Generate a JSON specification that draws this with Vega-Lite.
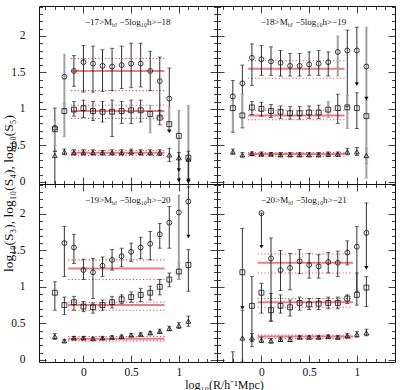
{
  "$schema": "https://vega.github.io/schema/vega-lite/v6.json",
  "padding": {"left": 0, "top": 0, "right": 0, "bottom": 0},
  "datasets": {
    "pts": [
      {"p":1,"s":"S5","x":-0.3,"y":0.74,"lo":0.42,"hi":1.01,"t":"k"},
      {"p":1,"s":"S5","x":-0.2,"y":1.44,"lo":0.99,"hi":1.75,"t":"g"},
      {"p":1,"s":"S5","x":-0.1,"y":1.52,"lo":1.31,"hi":1.73,"t":"k"},
      {"p":1,"s":"S5","x":0,"y":1.64,"lo":1.23,"hi":1.87,"t":"k"},
      {"p":1,"s":"S5","x":0.1,"y":1.62,"lo":1.23,"hi":1.86,"t":"k"},
      {"p":1,"s":"S5","x":0.2,"y":1.59,"lo":1.24,"hi":1.81,"t":"k"},
      {"p":1,"s":"S5","x":0.3,"y":1.58,"lo":1.25,"hi":1.83,"t":"k"},
      {"p":1,"s":"S5","x":0.4,"y":1.6,"lo":1.28,"hi":1.86,"t":"k"},
      {"p":1,"s":"S5","x":0.5,"y":1.62,"lo":1.29,"hi":1.9,"t":"k"},
      {"p":1,"s":"S5","x":0.6,"y":1.62,"lo":1.3,"hi":1.9,"t":"k"},
      {"p":1,"s":"S5","x":0.7,"y":1.52,"lo":1.25,"hi":1.79,"t":"k"},
      {"p":1,"s":"S5","x":0.8,"y":1.38,"lo":0.89,"hi":1.71,"t":"k"},
      {"p":1,"s":"S5","x":0.9,"y":1.14,"lo":0.71,"hi":1.56,"t":"k"},
      {"p":1,"s":"S4","x":-0.3,"y":0.72,"lo":0.5,"hi":0.85,"t":"g"},
      {"p":1,"s":"S4","x":-0.2,"y":0.97,"lo":0.62,"hi":1.08,"t":"g"},
      {"p":1,"s":"S4","x":-0.1,"y":0.99,"lo":0.9,"hi":1.1,"t":"k"},
      {"p":1,"s":"S4","x":0,"y":1.01,"lo":0.88,"hi":1.12,"t":"k"},
      {"p":1,"s":"S4","x":0.1,"y":0.97,"lo":0.84,"hi":1.1,"t":"k"},
      {"p":1,"s":"S4","x":0.2,"y":0.96,"lo":0.82,"hi":1.1,"t":"k"},
      {"p":1,"s":"S4","x":0.3,"y":0.96,"lo":0.62,"hi":1.12,"t":"k"},
      {"p":1,"s":"S4","x":0.4,"y":0.97,"lo":0.8,"hi":1.1,"t":"k"},
      {"p":1,"s":"S4","x":0.5,"y":0.98,"lo":0.8,"hi":1.12,"t":"k"},
      {"p":1,"s":"S4","x":0.6,"y":0.98,"lo":0.82,"hi":1.12,"t":"k"},
      {"p":1,"s":"S4","x":0.7,"y":0.93,"lo":0.67,"hi":1.05,"t":"g"},
      {"p":1,"s":"S4","x":0.8,"y":0.88,"lo":0.78,"hi":0.98,"t":"k"},
      {"p":1,"s":"S4","x":0.9,"y":0.79,"lo":0.69,"hi":1.03,"t":"g","a":1},
      {"p":1,"s":"S4","x":1,"y":0.63,"lo":0.16,"hi":0.98,"t":"g","a":1},
      {"p":1,"s":"S4","x":1.1,"y":0.33,"lo":0.02,"hi":1.05,"t":"g","a":1},
      {"p":1,"s":"S3","x":-0.3,"y":0.36,"lo":-0.05,"hi":0.42,"t":"k"},
      {"p":1,"s":"S3","x":-0.2,"y":0.41,"lo":0.37,"hi":0.45,"t":"k"},
      {"p":1,"s":"S3","x":-0.1,"y":0.4,"lo":0.37,"hi":0.44,"t":"k"},
      {"p":1,"s":"S3","x":0,"y":0.4,"lo":0.37,"hi":0.44,"t":"k"},
      {"p":1,"s":"S3","x":0.1,"y":0.4,"lo":0.37,"hi":0.44,"t":"k"},
      {"p":1,"s":"S3","x":0.2,"y":0.4,"lo":0.37,"hi":0.43,"t":"k"},
      {"p":1,"s":"S3","x":0.3,"y":0.4,"lo":0.37,"hi":0.44,"t":"k"},
      {"p":1,"s":"S3","x":0.4,"y":0.4,"lo":0.37,"hi":0.44,"t":"k"},
      {"p":1,"s":"S3","x":0.5,"y":0.41,"lo":0.37,"hi":0.45,"t":"k"},
      {"p":1,"s":"S3","x":0.6,"y":0.4,"lo":0.37,"hi":0.44,"t":"k"},
      {"p":1,"s":"S3","x":0.7,"y":0.4,"lo":0.37,"hi":0.44,"t":"k"},
      {"p":1,"s":"S3","x":0.8,"y":0.4,"lo":0.36,"hi":0.44,"t":"k"},
      {"p":1,"s":"S3","x":0.9,"y":0.37,"lo":0.28,"hi":0.46,"t":"k"},
      {"p":1,"s":"S3","x":1,"y":0.33,"lo":0.02,"hi":0.4,"t":"k","a":1},
      {"p":1,"s":"S3","x":1.1,"y":0.31,"lo":0.0,"hi":0.42,"t":"k","a":1},

      {"p":2,"s":"S5","x":-0.3,"y":1.17,"lo":0.68,"hi":1.39,"t":"k"},
      {"p":2,"s":"S5","x":-0.2,"y":1.35,"lo":0.74,"hi":1.6,"t":"k"},
      {"p":2,"s":"S5","x":-0.1,"y":1.7,"lo":1.32,"hi":1.89,"t":"k"},
      {"p":2,"s":"S5","x":0,"y":1.68,"lo":1.46,"hi":1.87,"t":"k"},
      {"p":2,"s":"S5","x":0.1,"y":1.65,"lo":1.46,"hi":1.85,"t":"k"},
      {"p":2,"s":"S5","x":0.2,"y":1.63,"lo":1.45,"hi":1.8,"t":"k"},
      {"p":2,"s":"S5","x":0.3,"y":1.59,"lo":1.45,"hi":1.76,"t":"k"},
      {"p":2,"s":"S5","x":0.4,"y":1.59,"lo":1.45,"hi":1.76,"t":"k"},
      {"p":2,"s":"S5","x":0.5,"y":1.61,"lo":1.46,"hi":1.78,"t":"k"},
      {"p":2,"s":"S5","x":0.6,"y":1.62,"lo":1.46,"hi":1.8,"t":"k"},
      {"p":2,"s":"S5","x":0.7,"y":1.64,"lo":1.45,"hi":1.78,"t":"k"},
      {"p":2,"s":"S5","x":0.8,"y":1.78,"lo":1.45,"hi":2.0,"t":"g"},
      {"p":2,"s":"S5","x":0.9,"y":1.8,"lo":1.03,"hi":2.08,"t":"k"},
      {"p":2,"s":"S5","x":1,"y":1.8,"lo":1.34,"hi":2.12,"t":"k","a":1},
      {"p":2,"s":"S5","x":1.1,"y":1.58,"lo":1.14,"hi":2.12,"t":"g","a":1},
      {"p":2,"s":"S4","x":-0.3,"y":1.01,"lo":0.68,"hi":1.12,"t":"g"},
      {"p":2,"s":"S4","x":-0.2,"y":0.91,"lo":0.74,"hi":1.2,"t":"g"},
      {"p":2,"s":"S4","x":-0.1,"y":1.02,"lo":0.92,"hi":1.1,"t":"k"},
      {"p":2,"s":"S4","x":0,"y":1.0,"lo":0.9,"hi":1.09,"t":"k"},
      {"p":2,"s":"S4","x":0.1,"y":0.97,"lo":0.88,"hi":1.06,"t":"k"},
      {"p":2,"s":"S4","x":0.2,"y":0.96,"lo":0.87,"hi":1.04,"t":"k"},
      {"p":2,"s":"S4","x":0.3,"y":0.94,"lo":0.86,"hi":1.03,"t":"k"},
      {"p":2,"s":"S4","x":0.4,"y":0.94,"lo":0.86,"hi":1.03,"t":"k"},
      {"p":2,"s":"S4","x":0.5,"y":0.95,"lo":0.87,"hi":1.04,"t":"k"},
      {"p":2,"s":"S4","x":0.6,"y":0.95,"lo":0.87,"hi":1.05,"t":"k"},
      {"p":2,"s":"S4","x":0.7,"y":0.99,"lo":0.88,"hi":1.1,"t":"g"},
      {"p":2,"s":"S4","x":0.8,"y":1.01,"lo":0.8,"hi":1.2,"t":"k"},
      {"p":2,"s":"S4","x":0.9,"y":1.02,"lo":0.73,"hi":1.18,"t":"g"},
      {"p":2,"s":"S4","x":1,"y":1.01,"lo":0.73,"hi":1.22,"t":"k"},
      {"p":2,"s":"S4","x":1.1,"y":0.9,"lo":0.05,"hi":1.12,"t":"g"},
      {"p":2,"s":"S3","x":-0.3,"y":0.41,"lo":0.38,"hi":0.45,"t":"k"},
      {"p":2,"s":"S3","x":-0.2,"y":0.37,"lo":0.34,"hi":0.4,"t":"k"},
      {"p":2,"s":"S3","x":-0.1,"y":0.39,"lo":0.36,"hi":0.41,"t":"k"},
      {"p":2,"s":"S3","x":0,"y":0.38,"lo":0.36,"hi":0.41,"t":"k"},
      {"p":2,"s":"S3","x":0.1,"y":0.38,"lo":0.36,"hi":0.4,"t":"k"},
      {"p":2,"s":"S3","x":0.2,"y":0.37,"lo":0.35,"hi":0.4,"t":"k"},
      {"p":2,"s":"S3","x":0.3,"y":0.37,"lo":0.35,"hi":0.4,"t":"k"},
      {"p":2,"s":"S3","x":0.4,"y":0.37,"lo":0.35,"hi":0.4,"t":"k"},
      {"p":2,"s":"S3","x":0.5,"y":0.37,"lo":0.35,"hi":0.4,"t":"k"},
      {"p":2,"s":"S3","x":0.6,"y":0.37,"lo":0.35,"hi":0.4,"t":"k"},
      {"p":2,"s":"S3","x":0.7,"y":0.38,"lo":0.35,"hi":0.41,"t":"k"},
      {"p":2,"s":"S3","x":0.8,"y":0.38,"lo":0.35,"hi":0.41,"t":"k"},
      {"p":2,"s":"S3","x":0.9,"y":0.41,"lo":0.37,"hi":0.46,"t":"k"},
      {"p":2,"s":"S3","x":1,"y":0.41,"lo":0.36,"hi":0.47,"t":"k"},
      {"p":2,"s":"S3","x":1.1,"y":0.36,"lo":0.25,"hi":0.46,"t":"g"},

      {"p":3,"s":"S5","x":-0.2,"y":1.6,"lo":1.14,"hi":1.83,"t":"k"},
      {"p":3,"s":"S5","x":-0.1,"y":1.54,"lo":1.32,"hi":1.72,"t":"k"},
      {"p":3,"s":"S5","x":0,"y":1.23,"lo":1.1,"hi":1.38,"t":"k"},
      {"p":3,"s":"S5","x":0.1,"y":1.2,"lo":0.84,"hi":1.39,"t":"k"},
      {"p":3,"s":"S5","x":0.2,"y":1.29,"lo":1.14,"hi":1.41,"t":"k"},
      {"p":3,"s":"S5","x":0.3,"y":1.37,"lo":1.23,"hi":1.51,"t":"k"},
      {"p":3,"s":"S5","x":0.4,"y":1.42,"lo":1.28,"hi":1.53,"t":"k"},
      {"p":3,"s":"S5","x":0.5,"y":1.48,"lo":1.35,"hi":1.6,"t":"k"},
      {"p":3,"s":"S5","x":0.6,"y":1.54,"lo":1.39,"hi":1.68,"t":"k"},
      {"p":3,"s":"S5","x":0.7,"y":1.59,"lo":1.37,"hi":1.76,"t":"k"},
      {"p":3,"s":"S5","x":0.8,"y":1.72,"lo":1.53,"hi":1.87,"t":"k"},
      {"p":3,"s":"S5","x":0.9,"y":1.88,"lo":1.53,"hi":2.1,"t":"k"},
      {"p":3,"s":"S5","x":1,"y":2.02,"lo":1.1,"hi":2.26,"t":"g"},
      {"p":3,"s":"S5","x":1.1,"y":2.17,"lo":1.69,"hi":2.37,"t":"k","a":1},
      {"p":3,"s":"S4","x":-0.3,"y":0.92,"lo":0.68,"hi":1.07,"t":"k"},
      {"p":3,"s":"S4","x":-0.2,"y":0.75,"lo":0.62,"hi":0.86,"t":"k"},
      {"p":3,"s":"S4","x":-0.1,"y":0.79,"lo":0.68,"hi":0.87,"t":"k"},
      {"p":3,"s":"S4","x":0,"y":0.73,"lo":0.66,"hi":0.8,"t":"k"},
      {"p":3,"s":"S4","x":0.1,"y":0.72,"lo":0.64,"hi":0.78,"t":"k"},
      {"p":3,"s":"S4","x":0.2,"y":0.75,"lo":0.68,"hi":0.82,"t":"k"},
      {"p":3,"s":"S4","x":0.3,"y":0.79,"lo":0.71,"hi":0.87,"t":"k"},
      {"p":3,"s":"S4","x":0.4,"y":0.83,"lo":0.77,"hi":0.89,"t":"k"},
      {"p":3,"s":"S4","x":0.5,"y":0.86,"lo":0.79,"hi":0.93,"t":"k"},
      {"p":3,"s":"S4","x":0.6,"y":0.89,"lo":0.8,"hi":0.98,"t":"k"},
      {"p":3,"s":"S4","x":0.7,"y":0.92,"lo":0.82,"hi":1.01,"t":"k"},
      {"p":3,"s":"S4","x":0.8,"y":1.0,"lo":0.89,"hi":1.1,"t":"k"},
      {"p":3,"s":"S4","x":0.9,"y":1.1,"lo":1.0,"hi":1.19,"t":"k"},
      {"p":3,"s":"S4","x":1,"y":1.21,"lo":1.1,"hi":1.33,"t":"g"},
      {"p":3,"s":"S4","x":1.1,"y":1.3,"lo":0.94,"hi":1.51,"t":"k"},
      {"p":3,"s":"S3","x":-0.3,"y":0.32,"lo":0.28,"hi":0.36,"t":"k"},
      {"p":3,"s":"S3","x":-0.2,"y":0.26,"lo":0.24,"hi":0.28,"t":"k"},
      {"p":3,"s":"S3","x":-0.1,"y":0.3,"lo":0.28,"hi":0.32,"t":"k"},
      {"p":3,"s":"S3","x":0,"y":0.3,"lo":0.28,"hi":0.32,"t":"k"},
      {"p":3,"s":"S3","x":0.1,"y":0.29,"lo":0.27,"hi":0.31,"t":"k"},
      {"p":3,"s":"S3","x":0.2,"y":0.3,"lo":0.28,"hi":0.32,"t":"k"},
      {"p":3,"s":"S3","x":0.3,"y":0.31,"lo":0.29,"hi":0.33,"t":"k"},
      {"p":3,"s":"S3","x":0.4,"y":0.32,"lo":0.3,"hi":0.34,"t":"k"},
      {"p":3,"s":"S3","x":0.5,"y":0.34,"lo":0.32,"hi":0.36,"t":"k"},
      {"p":3,"s":"S3","x":0.6,"y":0.35,"lo":0.33,"hi":0.37,"t":"k"},
      {"p":3,"s":"S3","x":0.7,"y":0.37,"lo":0.35,"hi":0.39,"t":"k"},
      {"p":3,"s":"S3","x":0.8,"y":0.39,"lo":0.37,"hi":0.42,"t":"k"},
      {"p":3,"s":"S3","x":0.9,"y":0.43,"lo":0.4,"hi":0.46,"t":"k"},
      {"p":3,"s":"S3","x":1,"y":0.47,"lo":0.43,"hi":0.51,"t":"k"},
      {"p":3,"s":"S3","x":1.1,"y":0.53,"lo":0.46,"hi":0.6,"t":"k"},

      {"p":4,"s":"S5","x":0,"y":2.01,"lo":1.55,"hi":2.01,"t":"k","a":1},
      {"p":4,"s":"S5","x":0.1,"y":1.39,"lo":0.53,"hi":1.67,"t":"k"},
      {"p":4,"s":"S5","x":0.2,"y":1.23,"lo":0.95,"hi":1.5,"t":"k"},
      {"p":4,"s":"S5","x":0.3,"y":1.26,"lo":0.96,"hi":1.46,"t":"k"},
      {"p":4,"s":"S5","x":0.4,"y":1.35,"lo":1.18,"hi":1.51,"t":"k"},
      {"p":4,"s":"S5","x":0.5,"y":1.3,"lo":1.12,"hi":1.46,"t":"k"},
      {"p":4,"s":"S5","x":0.6,"y":1.28,"lo":1.12,"hi":1.44,"t":"k"},
      {"p":4,"s":"S5","x":0.7,"y":1.34,"lo":1.19,"hi":1.47,"t":"k"},
      {"p":4,"s":"S5","x":0.8,"y":1.33,"lo":1.14,"hi":1.49,"t":"k"},
      {"p":4,"s":"S5","x":0.9,"y":1.47,"lo":1.3,"hi":1.63,"t":"k"},
      {"p":4,"s":"S5","x":1,"y":1.55,"lo":0.94,"hi":1.83,"t":"k"},
      {"p":4,"s":"S5","x":1.1,"y":1.74,"lo":1.26,"hi":2.15,"t":"k","a":1},
      {"p":4,"s":"S4","x":-0.2,"y":1.2,"lo":0.71,"hi":1.8,"t":"k","a":1},
      {"p":4,"s":"S4","x":-0.1,"y":0.74,"lo":0.18,"hi":1.14,"t":"k"},
      {"p":4,"s":"S4","x":0,"y":0.92,"lo":0.64,"hi":1.05,"t":"k"},
      {"p":4,"s":"S4","x":0.1,"y":0.68,"lo":0.53,"hi":0.91,"t":"k"},
      {"p":4,"s":"S4","x":0.2,"y":0.74,"lo":0.64,"hi":0.89,"t":"k"},
      {"p":4,"s":"S4","x":0.3,"y":0.72,"lo":0.6,"hi":0.82,"t":"k"},
      {"p":4,"s":"S4","x":0.4,"y":0.78,"lo":0.68,"hi":0.86,"t":"k"},
      {"p":4,"s":"S4","x":0.5,"y":0.76,"lo":0.69,"hi":0.84,"t":"k"},
      {"p":4,"s":"S4","x":0.6,"y":0.77,"lo":0.69,"hi":0.84,"t":"k"},
      {"p":4,"s":"S4","x":0.7,"y":0.78,"lo":0.7,"hi":0.86,"t":"k"},
      {"p":4,"s":"S4","x":0.8,"y":0.78,"lo":0.7,"hi":0.86,"t":"k"},
      {"p":4,"s":"S4","x":0.9,"y":0.84,"lo":0.77,"hi":0.89,"t":"k"},
      {"p":4,"s":"S4","x":1,"y":0.89,"lo":0.75,"hi":1.19,"t":"k"},
      {"p":4,"s":"S4","x":1.1,"y":0.99,"lo":0.73,"hi":1.14,"t":"k"},
      {"p":4,"s":"S3","x":-0.3,"y":null,"lo":-0.05,"hi":0.11,"t":"k"},
      {"p":4,"s":"S3","x":-0.2,"y":0.3,"lo":-0.03,"hi":0.68,"t":"k"},
      {"p":4,"s":"S3","x":-0.1,"y":0.3,"lo":0.25,"hi":0.36,"t":"k"},
      {"p":4,"s":"S3","x":0,"y":0.27,"lo":0.24,"hi":0.31,"t":"k"},
      {"p":4,"s":"S3","x":0.1,"y":0.26,"lo":0.23,"hi":0.29,"t":"k"},
      {"p":4,"s":"S3","x":0.2,"y":0.28,"lo":0.25,"hi":0.31,"t":"k"},
      {"p":4,"s":"S3","x":0.3,"y":0.28,"lo":0.25,"hi":0.31,"t":"k"},
      {"p":4,"s":"S3","x":0.4,"y":0.31,"lo":0.29,"hi":0.33,"t":"k"},
      {"p":4,"s":"S3","x":0.5,"y":0.31,"lo":0.29,"hi":0.33,"t":"k"},
      {"p":4,"s":"S3","x":0.6,"y":0.31,"lo":0.29,"hi":0.33,"t":"k"},
      {"p":4,"s":"S3","x":0.7,"y":0.32,"lo":0.3,"hi":0.34,"t":"k"},
      {"p":4,"s":"S3","x":0.8,"y":0.31,"lo":0.29,"hi":0.33,"t":"k"},
      {"p":4,"s":"S3","x":0.9,"y":0.33,"lo":0.3,"hi":0.36,"t":"k"},
      {"p":4,"s":"S3","x":1,"y":0.35,"lo":0.31,"hi":0.39,"t":"k"},
      {"p":4,"s":"S3","x":1.1,"y":0.37,"lo":0.33,"hi":0.42,"t":"k"}
    ],
    "fits": [
      {"p":1,"s":"S5","x0":-0.13,"x1":0.85,"m":1.52,"dl":1.25,"dh":1.69},
      {"p":1,"s":"S4","x0":-0.13,"x1":0.85,"m":0.97,"dl":0.87,"dh":1.05},
      {"p":1,"s":"S3","x0":-0.13,"x1":0.85,"m":0.4,"dl":0.36,"dh":0.43},
      {"p":2,"s":"S5","x0":-0.14,"x1":0.87,"m":1.55,"dl":1.42,"dh":1.66},
      {"p":2,"s":"S4","x0":-0.14,"x1":0.87,"m":0.91,"dl":0.85,"dh":0.98},
      {"p":2,"s":"S3","x0":-0.14,"x1":0.87,"m":0.38,"dl":0.35,"dh":0.4},
      {"p":3,"s":"S5","x0":-0.16,"x1":0.85,"m":1.25,"dl":1.1,"dh":1.37},
      {"p":3,"s":"S4","x0":-0.16,"x1":0.85,"m":0.75,"dl":0.68,"dh":0.79},
      {"p":3,"s":"S3","x0":-0.16,"x1":0.85,"m":0.29,"dl":0.26,"dh":0.32},
      {"p":4,"s":"S5","x0":-0.04,"x1":0.96,"m":1.33,"dl":1.19,"dh":1.45},
      {"p":4,"s":"S4","x0":-0.04,"x1":0.96,"m":0.79,"dl":0.72,"dh":0.84},
      {"p":4,"s":"S3","x0":-0.04,"x1":0.96,"m":0.32,"dl":0.29,"dh":0.34}
    ],
    "titles": [
      {"p":1,"a":"−17>M","b":"bJ","c":"−5log₁₀h>−18"},
      {"p":2,"a":"−18>M","b":"bJ","c":"−5log₁₀h>−19"},
      {"p":3,"a":"−19>M","b":"bJ","c":"−5log₁₀h>−20"},
      {"p":4,"a":"−20>M","b":"bJ","c":"−5log₁₀h>−21"}
    ]
  },
  "columns": 2,
  "spacing": 0,
  "bounds": "flush",
  "concat": [
    {
      "width": 178, "height": 178,
      "layer": [
        {"data": {"name": "fits"}, "transform": [{"filter": "datum.p == 1"}, {"fold": ["dl", "dh"], "as": ["k", "v"]}],
         "mark": {"type": "rule", "stroke": "#e0505a", "strokeWidth": 1.1, "strokeDash": [1.2, 2.2], "clip": true},
         "encoding": {
           "x": {"field": "x0", "type": "quantitative", "scale": {"domain": [-0.466, 1.4], "nice": false, "zero": false},
                 "axis": {"orient": "bottom", "values": [-0.4,-0.3,-0.2,-0.1,0,0.1,0.2,0.3,0.4,0.5,0.6,0.7,0.8,0.9,1,1.1,1.2,1.3], "tickSize": {"condition": {"test": "abs(datum.value*2 - round(datum.value*2)) < 0.001", "value": -7}, "value": -3.5}, "labels": false, "title": null}},
           "x2": {"field": "x1"},
           "y": {"field": "v", "type": "quantitative", "scale": {"domain": [-0.03, 2.41], "nice": false, "zero": false},
                 "axis": {"orient": "left", "values": [0,0.1,0.2,0.3,0.4,0.5,0.6,0.7,0.8,0.9,1,1.1,1.2,1.3,1.4,1.5,1.6,1.7,1.8,1.9,2,2.1,2.2,2.3,2.4], "tickSize": {"condition": {"test": "abs(datum.value*2 - round(datum.value*2)) < 0.001", "value": -7}, "value": -3.5}, "labelExpr": "abs(datum.value*2 - round(datum.value*2)) < 0.001 ? '' + datum.value : ''", "labelPadding": 21, "title": "log₁₀(S₃), log₁₀(S₄), log₁₀(S₅)", "titleY": 187, "titleX": -24, "titleBaseline": "bottom", "titleFontSize": 13.5}}}},
        {"data": {"name": "fits"}, "transform": [{"filter": "datum.p == 1"}],
         "mark": {"type": "rule", "stroke": "#e4505a", "strokeWidth": 2, "opacity": 0.75, "clip": true},
         "encoding": {
           "x": {"field": "x0", "type": "quantitative", "axis": {"orient": "top", "values": [-0.4,-0.3,-0.2,-0.1,0,0.1,0.2,0.3,0.4,0.5,0.6,0.7,0.8,0.9,1,1.1,1.2,1.3], "tickSize": {"condition": {"test": "abs(datum.value*2 - round(datum.value*2)) < 0.001", "value": -7}, "value": -3.5}, "labels": false, "title": null}},
           "x2": {"field": "x1"},
           "y": {"field": "m", "type": "quantitative", "axis": {"orient": "right", "values": [0,0.1,0.2,0.3,0.4,0.5,0.6,0.7,0.8,0.9,1,1.1,1.2,1.3,1.4,1.5,1.6,1.7,1.8,1.9,2,2.1,2.2,2.3,2.4], "tickSize": {"condition": {"test": "abs(datum.value*2 - round(datum.value*2)) < 0.001", "value": -7}, "value": -3.5}, "labels": false, "title": null}}}},
        {"data": {"name": "pts"}, "transform": [{"filter": "datum.p == 1"}],
         "mark": {"type": "rule", "clip": true},
         "encoding": {
           "x": {"field": "x", "type": "quantitative", "axis": null},
           "y": {"field": "lo", "type": "quantitative", "axis": null},
           "y2": {"field": "hi"},
           "color": {"field": "t", "type": "nominal", "scale": {"domain": ["k", "g"], "range": ["#1a1a1a", "#a0a0a0"]}, "legend": null},
           "strokeWidth": {"field": "t", "type": "ordinal", "scale": {"domain": ["k", "g"], "range": [0.9, 2]}, "legend": null}}},
        {"data": {"name": "pts"}, "transform": [{"filter": "datum.p == 1 && datum.a != 1"}],
         "mark": {"type": "tick", "orient": "horizontal", "size": 4, "thickness": 0.9, "clip": true},
         "encoding": {
           "x": {"field": "x", "type": "quantitative", "axis": null},
           "y": {"field": "lo", "type": "quantitative", "axis": null},
           "color": {"field": "t", "type": "nominal", "scale": {"domain": ["k", "g"], "range": ["#1a1a1a", "#a0a0a0"]}, "legend": null}}},
        {"data": {"name": "pts"}, "transform": [{"filter": "datum.p == 1"}],
         "mark": {"type": "tick", "orient": "horizontal", "size": 4, "thickness": 0.9, "clip": true},
         "encoding": {
           "x": {"field": "x", "type": "quantitative", "axis": null},
           "y": {"field": "hi", "type": "quantitative", "axis": null},
           "color": {"field": "t", "type": "nominal", "scale": {"domain": ["k", "g"], "range": ["#1a1a1a", "#a0a0a0"]}, "legend": null}}},
        {"data": {"name": "pts"}, "transform": [{"filter": "datum.p == 1 && isValid(datum.y)"}],
         "mark": {"type": "point", "filled": false, "size": 24, "strokeWidth": 0.8, "color": "#111", "opacity": 1, "clip": true},
         "encoding": {
           "x": {"field": "x", "type": "quantitative", "axis": null},
           "y": {"field": "y", "type": "quantitative", "axis": null},
           "shape": {"field": "s", "type": "nominal", "scale": {"domain": ["S3", "S4", "S5"], "range": ["triangle-up", "square", "circle"]}, "legend": null}}},
        {"data": {"name": "pts"}, "transform": [{"filter": "datum.p == 1 && datum.a == 1"}],
         "mark": {"type": "point", "shape": "triangle-down", "filled": true, "size": 18, "color": "#111", "opacity": 1, "clip": true},
         "encoding": {
           "x": {"field": "x", "type": "quantitative", "axis": null},
           "y": {"field": "lo", "type": "quantitative", "axis": null}}},
        {"data": {"name": "titles"}, "transform": [{"filter": "datum.p == 1"}],
         "mark": {"type": "text", "align": "right", "baseline": "alphabetic", "fontSize": 9, "font": "Liberation Serif", "color": "#111"},
         "encoding": {"x": {"datum": 0.3, "type": "quantitative", "axis": null}, "y": {"datum": 2.15, "type": "quantitative", "axis": null}, "text": {"field": "a"}}},
        {"data": {"name": "titles"}, "transform": [{"filter": "datum.p == 1"}],
         "mark": {"type": "text", "align": "left", "baseline": "alphabetic", "fontSize": 5.5, "dy": 2, "font": "Liberation Serif", "color": "#111"},
         "encoding": {"x": {"datum": 0.3, "type": "quantitative", "axis": null}, "y": {"datum": 2.15, "type": "quantitative", "axis": null}, "text": {"field": "b"}}},
        {"data": {"name": "titles"}, "transform": [{"filter": "datum.p == 1"}],
         "mark": {"type": "text", "align": "left", "baseline": "alphabetic", "fontSize": 9, "dx": 7.5, "font": "Liberation Serif", "color": "#111"},
         "encoding": {"x": {"datum": 0.3, "type": "quantitative", "axis": null}, "y": {"datum": 2.15, "type": "quantitative", "axis": null}, "text": {"field": "c"}}}
      ],
      "resolve": {"axis": {"x": "independent", "y": "independent"}}
    },
    {
      "width": 178, "height": 178,
      "layer": [
        {"data": {"name": "fits"}, "transform": [{"filter": "datum.p == 2"}, {"fold": ["dl", "dh"], "as": ["k", "v"]}],
         "mark": {"type": "rule", "stroke": "#e0505a", "strokeWidth": 1.1, "strokeDash": [1.2, 2.2], "clip": true},
         "encoding": {
           "x": {"field": "x0", "type": "quantitative", "scale": {"domain": [-0.466, 1.4], "nice": false, "zero": false},
                 "axis": {"orient": "bottom", "values": [-0.4,-0.3,-0.2,-0.1,0,0.1,0.2,0.3,0.4,0.5,0.6,0.7,0.8,0.9,1,1.1,1.2,1.3], "tickSize": {"condition": {"test": "abs(datum.value*2 - round(datum.value*2)) < 0.001", "value": -7}, "value": -3.5}, "labels": false, "title": null}},
           "x2": {"field": "x1"},
           "y": {"field": "v", "type": "quantitative", "scale": {"domain": [-0.03, 2.41], "nice": false, "zero": false},
                 "axis": {"orient": "left", "values": [0,0.1,0.2,0.3,0.4,0.5,0.6,0.7,0.8,0.9,1,1.1,1.2,1.3,1.4,1.5,1.6,1.7,1.8,1.9,2,2.1,2.2,2.3,2.4], "tickSize": {"condition": {"test": "abs(datum.value*2 - round(datum.value*2)) < 0.001", "value": -7}, "value": -3.5}, "labels": false, "title": null}}}},
        {"data": {"name": "fits"}, "transform": [{"filter": "datum.p == 2"}],
         "mark": {"type": "rule", "stroke": "#e4505a", "strokeWidth": 2, "opacity": 0.75, "clip": true},
         "encoding": {
           "x": {"field": "x0", "type": "quantitative", "axis": {"orient": "top", "values": [-0.4,-0.3,-0.2,-0.1,0,0.1,0.2,0.3,0.4,0.5,0.6,0.7,0.8,0.9,1,1.1,1.2,1.3], "tickSize": {"condition": {"test": "abs(datum.value*2 - round(datum.value*2)) < 0.001", "value": -7}, "value": -3.5}, "labels": false, "title": null}},
           "x2": {"field": "x1"},
           "y": {"field": "m", "type": "quantitative", "axis": {"orient": "right", "values": [0,0.1,0.2,0.3,0.4,0.5,0.6,0.7,0.8,0.9,1,1.1,1.2,1.3,1.4,1.5,1.6,1.7,1.8,1.9,2,2.1,2.2,2.3,2.4], "tickSize": {"condition": {"test": "abs(datum.value*2 - round(datum.value*2)) < 0.001", "value": -7}, "value": -3.5}, "labels": false, "title": null}}}},
        {"data": {"name": "pts"}, "transform": [{"filter": "datum.p == 2"}],
         "mark": {"type": "rule", "clip": true},
         "encoding": {
           "x": {"field": "x", "type": "quantitative", "axis": null},
           "y": {"field": "lo", "type": "quantitative", "axis": null},
           "y2": {"field": "hi"},
           "color": {"field": "t", "type": "nominal", "scale": {"domain": ["k", "g"], "range": ["#1a1a1a", "#a0a0a0"]}, "legend": null},
           "strokeWidth": {"field": "t", "type": "ordinal", "scale": {"domain": ["k", "g"], "range": [0.9, 2]}, "legend": null}}},
        {"data": {"name": "pts"}, "transform": [{"filter": "datum.p == 2 && datum.a != 1"}],
         "mark": {"type": "tick", "orient": "horizontal", "size": 4, "thickness": 0.9, "clip": true},
         "encoding": {
           "x": {"field": "x", "type": "quantitative", "axis": null},
           "y": {"field": "lo", "type": "quantitative", "axis": null},
           "color": {"field": "t", "type": "nominal", "scale": {"domain": ["k", "g"], "range": ["#1a1a1a", "#a0a0a0"]}, "legend": null}}},
        {"data": {"name": "pts"}, "transform": [{"filter": "datum.p == 2"}],
         "mark": {"type": "tick", "orient": "horizontal", "size": 4, "thickness": 0.9, "clip": true},
         "encoding": {
           "x": {"field": "x", "type": "quantitative", "axis": null},
           "y": {"field": "hi", "type": "quantitative", "axis": null},
           "color": {"field": "t", "type": "nominal", "scale": {"domain": ["k", "g"], "range": ["#1a1a1a", "#a0a0a0"]}, "legend": null}}},
        {"data": {"name": "pts"}, "transform": [{"filter": "datum.p == 2 && isValid(datum.y)"}],
         "mark": {"type": "point", "filled": false, "size": 24, "strokeWidth": 0.8, "color": "#111", "opacity": 1, "clip": true},
         "encoding": {
           "x": {"field": "x", "type": "quantitative", "axis": null},
           "y": {"field": "y", "type": "quantitative", "axis": null},
           "shape": {"field": "s", "type": "nominal", "scale": {"domain": ["S3", "S4", "S5"], "range": ["triangle-up", "square", "circle"]}, "legend": null}}},
        {"data": {"name": "pts"}, "transform": [{"filter": "datum.p == 2 && datum.a == 1"}],
         "mark": {"type": "point", "shape": "triangle-down", "filled": true, "size": 18, "color": "#111", "opacity": 1, "clip": true},
         "encoding": {
           "x": {"field": "x", "type": "quantitative", "axis": null},
           "y": {"field": "lo", "type": "quantitative", "axis": null}}},
        {"data": {"name": "titles"}, "transform": [{"filter": "datum.p == 2"}],
         "mark": {"type": "text", "align": "right", "baseline": "alphabetic", "fontSize": 9, "font": "Liberation Serif", "color": "#111"},
         "encoding": {"x": {"datum": 0.275, "type": "quantitative", "axis": null}, "y": {"datum": 2.15, "type": "quantitative", "axis": null}, "text": {"field": "a"}}},
        {"data": {"name": "titles"}, "transform": [{"filter": "datum.p == 2"}],
         "mark": {"type": "text", "align": "left", "baseline": "alphabetic", "fontSize": 5.5, "dy": 2, "font": "Liberation Serif", "color": "#111"},
         "encoding": {"x": {"datum": 0.275, "type": "quantitative", "axis": null}, "y": {"datum": 2.15, "type": "quantitative", "axis": null}, "text": {"field": "b"}}},
        {"data": {"name": "titles"}, "transform": [{"filter": "datum.p == 2"}],
         "mark": {"type": "text", "align": "left", "baseline": "alphabetic", "fontSize": 9, "dx": 7.5, "font": "Liberation Serif", "color": "#111"},
         "encoding": {"x": {"datum": 0.275, "type": "quantitative", "axis": null}, "y": {"datum": 2.15, "type": "quantitative", "axis": null}, "text": {"field": "c"}}}
      ],
      "resolve": {"axis": {"x": "independent", "y": "independent"}}
    },
    {
      "width": 178, "height": 178,
      "layer": [
        {"data": {"name": "fits"}, "transform": [{"filter": "datum.p == 3"}, {"fold": ["dl", "dh"], "as": ["k", "v"]}],
         "mark": {"type": "rule", "stroke": "#e0505a", "strokeWidth": 1.1, "strokeDash": [1.2, 2.2], "clip": true},
         "encoding": {
           "x": {"field": "x0", "type": "quantitative", "scale": {"domain": [-0.466, 1.4], "nice": false, "zero": false},
                 "axis": {"orient": "bottom", "values": [-0.4,-0.3,-0.2,-0.1,0,0.1,0.2,0.3,0.4,0.5,0.6,0.7,0.8,0.9,1,1.1,1.2,1.3], "tickSize": {"condition": {"test": "abs(datum.value*2 - round(datum.value*2)) < 0.001", "value": -7}, "value": -3.5}, "labelExpr": "abs(datum.value*2 - round(datum.value*2)) < 0.001 ? '' + datum.value : ''", "labelPadding": 11, "title": "log₁₀(R/h⁻¹Mpc)", "titleX": 185, "titleY": 26, "titleBaseline": "alphabetic", "titleFontSize": 12}},
           "x2": {"field": "x1"},
           "y": {"field": "v", "type": "quantitative", "scale": {"domain": [-0.03, 2.41], "nice": false, "zero": false},
                 "axis": {"orient": "left", "values": [0,0.1,0.2,0.3,0.4,0.5,0.6,0.7,0.8,0.9,1,1.1,1.2,1.3,1.4,1.5,1.6,1.7,1.8,1.9,2,2.1,2.2,2.3,2.4], "tickSize": {"condition": {"test": "abs(datum.value*2 - round(datum.value*2)) < 0.001", "value": -7}, "value": -3.5}, "labelExpr": "abs(datum.value*2 - round(datum.value*2)) < 0.001 ? '' + datum.value : ''", "labelPadding": 21, "title": null}}}},
        {"data": {"name": "fits"}, "transform": [{"filter": "datum.p == 3"}],
         "mark": {"type": "rule", "stroke": "#e4505a", "strokeWidth": 2, "opacity": 0.75, "clip": true},
         "encoding": {
           "x": {"field": "x0", "type": "quantitative", "axis": {"orient": "top", "values": [-0.4,-0.3,-0.2,-0.1,0,0.1,0.2,0.3,0.4,0.5,0.6,0.7,0.8,0.9,1,1.1,1.2,1.3], "tickSize": {"condition": {"test": "abs(datum.value*2 - round(datum.value*2)) < 0.001", "value": -7}, "value": -3.5}, "labels": false, "title": null}},
           "x2": {"field": "x1"},
           "y": {"field": "m", "type": "quantitative", "axis": {"orient": "right", "values": [0,0.1,0.2,0.3,0.4,0.5,0.6,0.7,0.8,0.9,1,1.1,1.2,1.3,1.4,1.5,1.6,1.7,1.8,1.9,2,2.1,2.2,2.3,2.4], "tickSize": {"condition": {"test": "abs(datum.value*2 - round(datum.value*2)) < 0.001", "value": -7}, "value": -3.5}, "labels": false, "title": null}}}},
        {"data": {"name": "pts"}, "transform": [{"filter": "datum.p == 3"}],
         "mark": {"type": "rule", "clip": true},
         "encoding": {
           "x": {"field": "x", "type": "quantitative", "axis": null},
           "y": {"field": "lo", "type": "quantitative", "axis": null},
           "y2": {"field": "hi"},
           "color": {"field": "t", "type": "nominal", "scale": {"domain": ["k", "g"], "range": ["#1a1a1a", "#a0a0a0"]}, "legend": null},
           "strokeWidth": {"field": "t", "type": "ordinal", "scale": {"domain": ["k", "g"], "range": [0.9, 2]}, "legend": null}}},
        {"data": {"name": "pts"}, "transform": [{"filter": "datum.p == 3 && datum.a != 1"}],
         "mark": {"type": "tick", "orient": "horizontal", "size": 4, "thickness": 0.9, "clip": true},
         "encoding": {
           "x": {"field": "x", "type": "quantitative", "axis": null},
           "y": {"field": "lo", "type": "quantitative", "axis": null},
           "color": {"field": "t", "type": "nominal", "scale": {"domain": ["k", "g"], "range": ["#1a1a1a", "#a0a0a0"]}, "legend": null}}},
        {"data": {"name": "pts"}, "transform": [{"filter": "datum.p == 3"}],
         "mark": {"type": "tick", "orient": "horizontal", "size": 4, "thickness": 0.9, "clip": true},
         "encoding": {
           "x": {"field": "x", "type": "quantitative", "axis": null},
           "y": {"field": "hi", "type": "quantitative", "axis": null},
           "color": {"field": "t", "type": "nominal", "scale": {"domain": ["k", "g"], "range": ["#1a1a1a", "#a0a0a0"]}, "legend": null}}},
        {"data": {"name": "pts"}, "transform": [{"filter": "datum.p == 3 && isValid(datum.y)"}],
         "mark": {"type": "point", "filled": false, "size": 24, "strokeWidth": 0.8, "color": "#111", "opacity": 1, "clip": true},
         "encoding": {
           "x": {"field": "x", "type": "quantitative", "axis": null},
           "y": {"field": "y", "type": "quantitative", "axis": null},
           "shape": {"field": "s", "type": "nominal", "scale": {"domain": ["S3", "S4", "S5"], "range": ["triangle-up", "square", "circle"]}, "legend": null}}},
        {"data": {"name": "pts"}, "transform": [{"filter": "datum.p == 3 && datum.a == 1"}],
         "mark": {"type": "point", "shape": "triangle-down", "filled": true, "size": 18, "color": "#111", "opacity": 1, "clip": true},
         "encoding": {
           "x": {"field": "x", "type": "quantitative", "axis": null},
           "y": {"field": "lo", "type": "quantitative", "axis": null}}},
        {"data": {"name": "titles"}, "transform": [{"filter": "datum.p == 3"}],
         "mark": {"type": "text", "align": "right", "baseline": "alphabetic", "fontSize": 9, "font": "Liberation Serif", "color": "#111"},
         "encoding": {"x": {"datum": 0.3, "type": "quantitative", "axis": null}, "y": {"datum": 2.15, "type": "quantitative", "axis": null}, "text": {"field": "a"}}},
        {"data": {"name": "titles"}, "transform": [{"filter": "datum.p == 3"}],
         "mark": {"type": "text", "align": "left", "baseline": "alphabetic", "fontSize": 5.5, "dy": 2, "font": "Liberation Serif", "color": "#111"},
         "encoding": {"x": {"datum": 0.3, "type": "quantitative", "axis": null}, "y": {"datum": 2.15, "type": "quantitative", "axis": null}, "text": {"field": "b"}}},
        {"data": {"name": "titles"}, "transform": [{"filter": "datum.p == 3"}],
         "mark": {"type": "text", "align": "left", "baseline": "alphabetic", "fontSize": 9, "dx": 7.5, "font": "Liberation Serif", "color": "#111"},
         "encoding": {"x": {"datum": 0.3, "type": "quantitative", "axis": null}, "y": {"datum": 2.15, "type": "quantitative", "axis": null}, "text": {"field": "c"}}}
      ],
      "resolve": {"axis": {"x": "independent", "y": "independent"}}
    },
    {
      "width": 178, "height": 178,
      "layer": [
        {"data": {"name": "fits"}, "transform": [{"filter": "datum.p == 4"}, {"fold": ["dl", "dh"], "as": ["k", "v"]}],
         "mark": {"type": "rule", "stroke": "#e0505a", "strokeWidth": 1.1, "strokeDash": [1.2, 2.2], "clip": true},
         "encoding": {
           "x": {"field": "x0", "type": "quantitative", "scale": {"domain": [-0.466, 1.4], "nice": false, "zero": false},
                 "axis": {"orient": "bottom", "values": [-0.4,-0.3,-0.2,-0.1,0,0.1,0.2,0.3,0.4,0.5,0.6,0.7,0.8,0.9,1,1.1,1.2,1.3], "tickSize": {"condition": {"test": "abs(datum.value*2 - round(datum.value*2)) < 0.001", "value": -7}, "value": -3.5}, "labelExpr": "abs(datum.value*2 - round(datum.value*2)) < 0.001 ? '' + datum.value : ''", "labelPadding": 11, "title": null}},
           "x2": {"field": "x1"},
           "y": {"field": "v", "type": "quantitative", "scale": {"domain": [-0.03, 2.41], "nice": false, "zero": false},
                 "axis": {"orient": "left", "values": [0,0.1,0.2,0.3,0.4,0.5,0.6,0.7,0.8,0.9,1,1.1,1.2,1.3,1.4,1.5,1.6,1.7,1.8,1.9,2,2.1,2.2,2.3,2.4], "tickSize": {"condition": {"test": "abs(datum.value*2 - round(datum.value*2)) < 0.001", "value": -7}, "value": -3.5}, "labels": false, "title": null}}}},
        {"data": {"name": "fits"}, "transform": [{"filter": "datum.p == 4"}],
         "mark": {"type": "rule", "stroke": "#e4505a", "strokeWidth": 2, "opacity": 0.75, "clip": true},
         "encoding": {
           "x": {"field": "x0", "type": "quantitative", "axis": {"orient": "top", "values": [-0.4,-0.3,-0.2,-0.1,0,0.1,0.2,0.3,0.4,0.5,0.6,0.7,0.8,0.9,1,1.1,1.2,1.3], "tickSize": {"condition": {"test": "abs(datum.value*2 - round(datum.value*2)) < 0.001", "value": -7}, "value": -3.5}, "labels": false, "title": null}},
           "x2": {"field": "x1"},
           "y": {"field": "m", "type": "quantitative", "axis": {"orient": "right", "values": [0,0.1,0.2,0.3,0.4,0.5,0.6,0.7,0.8,0.9,1,1.1,1.2,1.3,1.4,1.5,1.6,1.7,1.8,1.9,2,2.1,2.2,2.3,2.4], "tickSize": {"condition": {"test": "abs(datum.value*2 - round(datum.value*2)) < 0.001", "value": -7}, "value": -3.5}, "labels": false, "title": null}}}},
        {"data": {"name": "pts"}, "transform": [{"filter": "datum.p == 4"}],
         "mark": {"type": "rule", "clip": true},
         "encoding": {
           "x": {"field": "x", "type": "quantitative", "axis": null},
           "y": {"field": "lo", "type": "quantitative", "axis": null},
           "y2": {"field": "hi"},
           "color": {"field": "t", "type": "nominal", "scale": {"domain": ["k", "g"], "range": ["#1a1a1a", "#a0a0a0"]}, "legend": null},
           "strokeWidth": {"field": "t", "type": "ordinal", "scale": {"domain": ["k", "g"], "range": [0.9, 2]}, "legend": null}}},
        {"data": {"name": "pts"}, "transform": [{"filter": "datum.p == 4 && datum.a != 1"}],
         "mark": {"type": "tick", "orient": "horizontal", "size": 4, "thickness": 0.9, "clip": true},
         "encoding": {
           "x": {"field": "x", "type": "quantitative", "axis": null},
           "y": {"field": "lo", "type": "quantitative", "axis": null},
           "color": {"field": "t", "type": "nominal", "scale": {"domain": ["k", "g"], "range": ["#1a1a1a", "#a0a0a0"]}, "legend": null}}},
        {"data": {"name": "pts"}, "transform": [{"filter": "datum.p == 4"}],
         "mark": {"type": "tick", "orient": "horizontal", "size": 4, "thickness": 0.9, "clip": true},
         "encoding": {
           "x": {"field": "x", "type": "quantitative", "axis": null},
           "y": {"field": "hi", "type": "quantitative", "axis": null},
           "color": {"field": "t", "type": "nominal", "scale": {"domain": ["k", "g"], "range": ["#1a1a1a", "#a0a0a0"]}, "legend": null}}},
        {"data": {"name": "pts"}, "transform": [{"filter": "datum.p == 4 && isValid(datum.y)"}],
         "mark": {"type": "point", "filled": false, "size": 24, "strokeWidth": 0.8, "color": "#111", "opacity": 1, "clip": true},
         "encoding": {
           "x": {"field": "x", "type": "quantitative", "axis": null},
           "y": {"field": "y", "type": "quantitative", "axis": null},
           "shape": {"field": "s", "type": "nominal", "scale": {"domain": ["S3", "S4", "S5"], "range": ["triangle-up", "square", "circle"]}, "legend": null}}},
        {"data": {"name": "pts"}, "transform": [{"filter": "datum.p == 4 && datum.a == 1"}],
         "mark": {"type": "point", "shape": "triangle-down", "filled": true, "size": 18, "color": "#111", "opacity": 1, "clip": true},
         "encoding": {
           "x": {"field": "x", "type": "quantitative", "axis": null},
           "y": {"field": "lo", "type": "quantitative", "axis": null}}},
        {"data": {"name": "titles"}, "transform": [{"filter": "datum.p == 4"}],
         "mark": {"type": "text", "align": "right", "baseline": "alphabetic", "fontSize": 9, "font": "Liberation Serif", "color": "#111"},
         "encoding": {"x": {"datum": 0.28, "type": "quantitative", "axis": null}, "y": {"datum": 2.15, "type": "quantitative", "axis": null}, "text": {"field": "a"}}},
        {"data": {"name": "titles"}, "transform": [{"filter": "datum.p == 4"}],
         "mark": {"type": "text", "align": "left", "baseline": "alphabetic", "fontSize": 5.5, "dy": 2, "font": "Liberation Serif", "color": "#111"},
         "encoding": {"x": {"datum": 0.28, "type": "quantitative", "axis": null}, "y": {"datum": 2.15, "type": "quantitative", "axis": null}, "text": {"field": "b"}}},
        {"data": {"name": "titles"}, "transform": [{"filter": "datum.p == 4"}],
         "mark": {"type": "text", "align": "left", "baseline": "alphabetic", "fontSize": 9, "dx": 7.5, "font": "Liberation Serif", "color": "#111"},
         "encoding": {"x": {"datum": 0.28, "type": "quantitative", "axis": null}, "y": {"datum": 2.15, "type": "quantitative", "axis": null}, "text": {"field": "c"}}}
      ],
      "resolve": {"axis": {"x": "independent", "y": "independent"}}
    }
  ],
  "config": {
    "view": {"stroke": "#111", "strokeWidth": 1},
    "axis": {"domain": false, "grid": false, "tickColor": "#111", "tickWidth": 0.8, "labelFont": "Liberation Serif", "labelFontSize": 11.5, "labelColor": "#111", "labelFlush": false, "labelOverlap": false, "titleFont": "Liberation Serif", "titleFontSize": 12.5, "titleFontWeight": "normal", "titleColor": "#111"}
  }
}
